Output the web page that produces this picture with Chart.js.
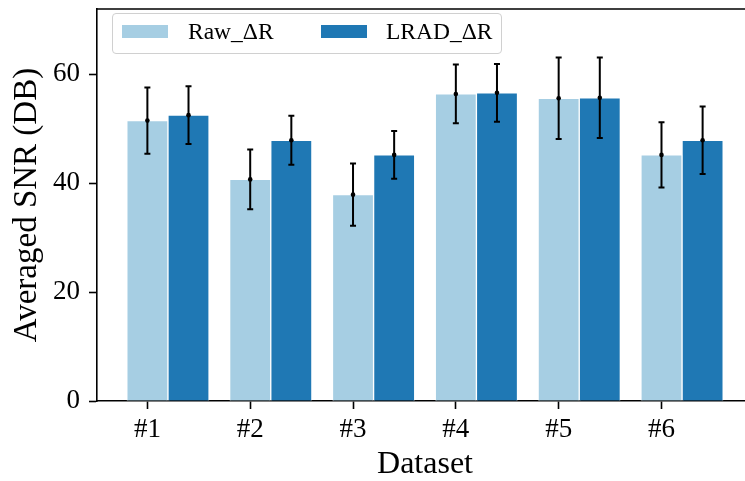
<!DOCTYPE html>
<html>
<head>
<meta charset="utf-8">
<script src="https://cdn.jsdelivr.net/npm/chart.js@4.4.1/dist/chart.umd.min.js"></script>
<style>
    html, body { margin: 0; padding: 0; background: #fff; }
    #wrap { position: relative; width: 745px; height: 481px; overflow: hidden; }
    #chart { position: absolute; left: 0; top: 0; }
    .legend {
        position: absolute; left: 112px; top: 13px; width: 390px; height: 41px;
        box-sizing: border-box; border: 1px solid #d0d0d0; border-radius: 4px;
        background: rgba(255, 255, 255, 0.8);
        font-family: 'Liberation Serif', serif; font-size: 23.5px; line-height: 1; color: #000;
    }
    .legend .patch { position: absolute; top: 11px; width: 46px; height: 13px; }
    .legend .label { position: absolute; top: 6.3px; white-space: nowrap; }
</style>
</head>
<body>
<div id="wrap">
    <canvas id="chart" width="760" height="481"></canvas>
    <div class="legend">
        <span class="patch" style="left:9px; background:#a6cee3"></span>
        <span class="label" style="left:75px">Raw_ΔR</span>
        <span class="patch" style="left:208px; background:#1f78b4"></span>
        <span class="label" style="left:273px">LRAD_ΔR</span>
    </div>
</div>
<script>
// values
const categories = ['#1', '#2', '#3', '#4', '#5', '#6'];
const rawMean  = [51.5, 40.7, 37.9, 56.4, 55.6, 45.2];
const rawErr   = [6.1, 5.5, 5.7, 5.4, 7.5, 6.0];
const lradMean = [52.5, 47.9, 45.2, 56.6, 55.7, 47.9];
const lradErr  = [5.3, 4.5, 4.4, 5.3, 7.4, 6.2];
const yTicks   = [0, 20, 40, 60];

const BAR_W = 0.4;   // bar width in x units (raw at i, LRAD at i + 0.4)
const FONT = 'Liberation Serif';

// error bars with caps and a dot at the mean
const errorBars = {
    id: 'errorBars',
    afterDatasetsDraw(chart) {
        const ctx = chart.ctx;
        const y = chart.scales.y;
        ctx.save();
        ctx.strokeStyle = '#000';
        ctx.fillStyle = '#000';
        ctx.lineWidth = 2;
        chart.data.datasets.forEach((ds, di) => {
            const meta = chart.getDatasetMeta(di);
            meta.data.forEach((bar, i) => {
                const m = ds.data[i].y;
                const e = ds.errors[i];
                const top = y.getPixelForValue(m + e);
                const bot = y.getPixelForValue(m - e);
                const mid = y.getPixelForValue(m);
                const x = bar.x;
                ctx.beginPath();
                ctx.moveTo(x, top); ctx.lineTo(x, bot);
                ctx.moveTo(x - 3, top); ctx.lineTo(x + 3, top);
                ctx.moveTo(x - 3, bot); ctx.lineTo(x + 3, bot);
                ctx.stroke();
                ctx.beginPath();
                ctx.arc(x, mid, 2.3, 0, Math.PI * 2);
                ctx.fill();
            });
        });
        ctx.restore();
    }
};

// top and right spines
const frame = {
    id: 'frame',
    afterDraw(chart) {
        const { ctx, chartArea: a } = chart;
        ctx.save();
        ctx.strokeStyle = '#000';
        ctx.lineWidth = 1.6;
        ctx.beginPath();
        ctx.moveTo(a.left, a.top); ctx.lineTo(a.right, a.top); ctx.lineTo(a.right, a.bottom);
        ctx.stroke();
        ctx.restore();
    }
};

new Chart(document.getElementById('chart'), {
    type: 'bar',
    data: {
        datasets: [{
            label: 'Raw_ΔR',
            data: rawMean.map((v, i) => ({ x: i, y: v })),
            errors: rawErr,
            backgroundColor: '#a6cee3',
            borderColor: '#ffffff',
            borderWidth: 1
        }, {
            label: 'LRAD_ΔR',
            data: lradMean.map((v, i) => ({ x: i + BAR_W, y: v })),
            errors: lradErr,
            backgroundColor: '#1f78b4',
            borderColor: '#ffffff',
            borderWidth: 1
        }]
    },
    options: {
        responsive: false,
        animation: false,
        grouped: false,
        categoryPercentage: 1,
        barPercentage: 1,
        layout: { padding: { top: 9, right: 7, bottom: 0, left: 0 } },
        plugins: {
            legend: { display: false },
            tooltip: { enabled: false }
        },
        scales: {
            x: {
                type: 'linear',
                min: -0.49,
                max: 5.89,
                offset: false,
                bounds: 'data',
                afterBuildTicks: (s) => { s.ticks = categories.map((c, i) => ({ value: i })); },
                afterFit: (s) => { s.height = 80; s.paddingLeft = 0; s.paddingRight = 0; },
                grid: { display: true, offset: false, drawOnChartArea: false, tickLength: 8, tickColor: '#000', tickWidth: 1.6 },
                border: { display: true, color: '#000', width: 1.6 },
                ticks: {
                    padding: 5,
                    color: '#000',
                    font: { family: FONT, size: 27 },
                    callback: (v) => categories[v] ?? ''
                },
                title: {
                    display: true,
                    text: 'Dataset',
                    color: '#000',
                    font: { family: FONT, size: 32, lineHeight: 1 },
                    padding: { top: 0, bottom: 0 }
                }
            },
            y: {
                min: 0,
                max: 72,
                bounds: 'data',
                afterBuildTicks: (s) => { s.ticks = yTicks.map(v => ({ value: v })); },
                afterFit: (s) => { s.width = 97; s.paddingTop = 0; s.paddingBottom = 0; },
                grid: { display: true, drawOnChartArea: false, tickLength: 8, tickColor: '#000', tickWidth: 1.6 },
                border: { display: true, color: '#000', width: 1.6 },
                ticks: {
                    padding: 9,
                    color: '#000',
                    font: { family: FONT, size: 27 }
                },
                title: {
                    display: true,
                    text: 'Averaged SNR (DB)',
                    color: '#000',
                    font: { family: FONT, size: 33 },
                    padding: { top: 8, bottom: 0 }
                }
            }
        }
    },
    plugins: [errorBars, frame]
});
</script>
</body>
</html>
